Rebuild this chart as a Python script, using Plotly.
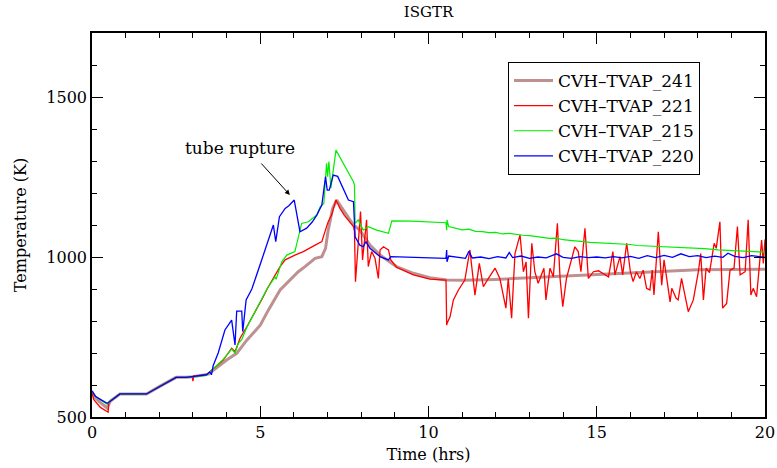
import plotly.graph_objects as go

# ---------------- data ----------------
t_241 = [0.0, 0.1, 0.25, 0.45, 0.5, 0.55, 0.83, 1.62, 2.0, 2.5, 2.8, 3.0, 3.46,
         4.0, 4.3, 4.6, 5.0, 5.24, 5.59, 5.88, 6.13, 6.33, 6.63, 6.83, 6.94, 7.02,
         7.15, 7.27, 7.47, 7.77, 7.96, 8.26, 8.56, 9.05, 9.55, 10.04, 10.54, 11.0,
         12.0, 13.0, 14.0, 15.0, 16.0, 17.0, 18.0, 19.0, 20.0]
T_241 = [578, 560, 545, 528, 540, 550, 572, 572, 595, 624, 624, 626, 634,
         678, 699, 740, 787, 834, 897, 928, 954, 970, 996, 1001, 1027, 1084,
         1152, 1178, 1147, 1100, 1084, 1037, 1006, 970, 949, 935, 928, 927,
         930, 935, 940, 946, 952, 957, 960, 961, 962]

t_221 = [0.0, 0.05, 0.25, 0.48, 0.5, 0.55, 0.83, 1.62, 2.0, 2.5, 2.8, 2.98, 3.0, 3.02,
         3.4, 3.6, 3.9, 4.15, 4.25, 4.4, 4.6, 5.04, 5.24, 5.59, 5.74, 6.03, 6.28,
         6.63, 6.83, 6.97, 7.02, 7.12, 7.25, 7.37, 7.5, 7.77, 7.8, 7.83, 7.98, 8.04,
         8.1, 8.16, 8.21, 8.31, 8.41, 8.51, 8.56, 8.66, 8.81, 8.88, 9.05, 9.55, 10.04,
         10.52, 10.54, 10.56, 10.64, 10.74, 10.89, 11.08, 11.23, 11.38, 11.51, 11.63,
         11.78, 11.98, 12.12, 12.3, 12.37, 12.47, 12.57, 12.72, 12.82, 12.9, 12.97,
         13.07, 13.16, 13.26, 13.43, 13.49, 13.61, 13.71, 13.83, 13.91, 13.99, 14.1,
         14.35, 14.45, 14.53, 14.65, 14.75, 14.9, 15.05, 15.35, 15.48, 15.54, 15.69,
         15.77, 15.89, 16.0, 16.08, 16.18, 16.28, 16.38, 16.48, 16.58, 16.65, 16.7,
         16.83, 16.93, 17.0, 17.18, 17.23, 17.36, 17.42, 17.52, 17.72, 17.87, 18.02,
         18.09, 18.17, 18.25, 18.35, 18.49, 18.55, 18.66, 18.74, 18.86, 18.96, 19.08,
         19.18, 19.26, 19.41, 19.5, 19.58, 19.65, 19.75, 19.9, 19.95, 20.0]
T_221 = [575, 555, 530, 515, 545, 550, 572, 572, 595, 624, 624, 626, 612, 628,
         632, 650, 678, 715, 704, 746, 782, 866, 907, 970, 991, 1006, 1017,
         1037, 1048, 1095, 1110, 1131, 1178, 1152, 1130, 1095, 1080, 923, 1142, 991,
         1060, 1116, 970, 1017, 996, 933, 1022, 1032, 1022, 991, 968, 944, 931,
         928, 787, 795, 813, 866, 897, 928, 1022, 881, 980, 907,
         933, 965, 933, 840, 933, 809, 1011, 1069, 954, 985, 809,
         1043, 954, 918, 965, 866, 965, 938, 1105, 933, 845, 933,
         1032, 1017, 954, 1090, 933, 954, 957, 938, 1017, 944, 1001,
         944, 1043, 954, 923, 954, 933, 959, 902, 897, 959, 881,
         1079, 912, 991, 860, 902, 871, 866, 933, 829, 866, 954,
         1011, 866, 965, 951, 1043, 1027, 1110, 840, 855, 959, 965,
         1095, 944, 954, 1116, 881, 902, 876, 1053, 980, 1055]

t_215 = [0.0, 0.1, 0.3, 0.45, 0.5, 0.55, 0.83, 1.62, 2.0, 2.5, 2.8, 3.0, 3.4,
         3.6, 3.9, 4.15, 4.25, 4.35, 4.45, 4.6, 4.89, 5.2, 5.44, 5.47, 5.64, 5.79,
         6.03, 6.13, 6.23, 6.43, 6.68, 6.78, 6.89, 6.97, 7.0, 7.04, 7.1, 7.25, 7.47,
         7.67, 7.77, 7.8, 7.82, 7.91, 8.06, 8.21, 8.46, 8.81, 8.91, 9.5, 10.0, 10.52,
         10.54, 10.55, 10.6, 10.8, 11.0, 11.2, 11.4, 11.6, 11.8, 12.0, 12.2, 12.4,
         12.6, 12.8, 13.0, 13.2, 13.4, 13.6, 13.8, 14.0, 14.2, 14.4, 14.6, 14.8,
         15.0, 15.2, 15.4, 15.6, 15.8, 16.0, 16.2, 16.4, 16.6, 16.8, 17.0, 17.4,
         17.8, 18.2, 18.6, 19.0, 19.4, 19.8, 20.0]
T_215 = [580, 565, 550, 540, 545, 552, 572, 572, 595, 624, 624, 626, 630,
         650, 680, 712, 700, 730, 742, 780, 840, 900, 938, 930, 985, 1006,
         1017, 1063, 1105, 1110, 1131, 1157, 1167, 1293, 1251, 1298, 1215, 1334, 1293,
         1256, 1235, 1225, 1105, 1116, 1084, 1095, 1084, 1074, 1113, 1112, 1110, 1107,
         1084, 1116, 1095, 1090, 1085, 1087, 1080, 1079, 1076, 1077, 1072, 1074,
         1070, 1068, 1067, 1064, 1061, 1058, 1059, 1054, 1052, 1051, 1048, 1046,
         1045, 1044, 1042, 1043, 1040, 1039, 1036, 1035, 1033, 1034, 1031, 1030,
         1027, 1026, 1022, 1020, 1018, 1017, 1015]

t_220 = [0.0, 0.1, 0.3, 0.45, 0.55, 0.83, 1.62, 2.0, 2.5, 2.8, 3.0, 3.4, 3.5, 3.55,
         3.6, 3.75, 3.95, 4.15, 4.25, 4.3, 4.45, 4.48, 4.58, 4.75, 5.04, 5.39, 5.46,
         5.57, 5.74, 5.85, 6.01, 6.18, 6.38, 6.55, 6.68, 6.83, 6.94, 6.99, 7.05, 7.17,
         7.3, 7.47, 7.62, 7.77, 7.82, 7.96, 8.06, 8.14, 8.26, 8.56, 8.81, 8.88, 9.5,
         10.0, 10.52, 10.54, 10.55, 10.6, 10.85, 11.1, 11.2, 11.3, 11.55, 11.8, 12.05,
         12.3, 12.4, 12.5, 12.75, 13.0, 13.25, 13.5, 13.8, 14.0, 14.25, 14.5, 14.75,
         15.0, 15.25, 15.5, 15.75, 16.0, 16.25, 16.5, 16.75, 17.0, 17.25, 17.5, 17.75,
         18.0, 18.25, 18.5, 18.75, 18.9, 19.1, 19.35, 19.6, 19.85, 20.0]
T_220 = [582, 565, 552, 543, 550, 572, 572, 595, 624, 624, 626, 632, 641, 632,
         660, 700, 772, 803, 725, 831, 831, 767, 866, 900, 990, 1100, 1048,
         1126, 1152, 1160, 1178, 1079, 1090, 1110, 1131, 1162, 1251, 1209, 1209, 1256,
         1252, 1215, 1178, 1173, 1063, 1037, 1032, 1048, 1027, 1001, 991, 1001, 999,
         998, 996, 1022, 985, 1003, 999, 996, 1018, 997, 1000, 995, 1001,
         997, 1014, 998, 1003, 996, 1000, 997, 1010, 999, 996, 1001, 998,
         1000, 997, 1001, 997, 1002, 996, 1004, 998, 1005, 999, 1010, 1001,
         1004, 998, 1003, 999, 1012, 1002, 998, 1004, 1000, 999]

series_names = ["CVH\u2013TVAP_241", "CVH\u2013TVAP_221", "CVH\u2013TVAP_215", "CVH\u2013TVAP_220"]
x_tick_vals = [0, 5, 10, 15, 20]
y_tick_vals = [500, 1000, 1500]

# ---------------- figure ----------------
FONT = "DejaVu Serif"
fig = go.Figure()
styles = [("#bf9090", 3.0), ("#ff0000", 1.3), ("#00ee00", 1.2), ("#0000ff", 1.3)]
for name, tx, ty, (col, w) in zip(series_names,
                                  [t_241, t_221, t_215, t_220],
                                  [T_241, T_221, T_215, T_220], styles):
    fig.add_trace(go.Scatter(x=tx, y=ty, mode="lines", name=name,
                             line=dict(color=col, width=w)))

axis_common = dict(showline=True, linecolor="black", linewidth=1.5, mirror="allticks",
                   ticks="inside", ticklen=11, tickwidth=1.2, tickcolor="black",
                   showgrid=False, zeroline=False, automargin=False,
                   tickfont=dict(family=FONT, size=16, color="black"))
fig.update_xaxes(range=[0, 20], tickvals=x_tick_vals, ticktext=[str(v) for v in x_tick_vals],
                 minor=dict(ticks="inside", ticklen=5, dtick=1, tickcolor="black", tickwidth=1),
                 title=dict(text="Time (hrs)", font=dict(family=FONT, size=16, color="black"), standoff=8),
                 **axis_common)
fig.update_yaxes(range=[500, 1700], tickvals=y_tick_vals, ticktext=[str(v) for v in y_tick_vals],
                 minor=dict(ticks="inside", ticklen=5, dtick=100, tickcolor="black", tickwidth=1),
                 title=dict(text="Temperature (K)", font=dict(family=FONT, size=16, color="black"), standoff=16),
                 **axis_common)

fig.add_annotation(x=5.88, y=1194, ax=4.99, ay=1297, xref="x", yref="y", axref="x", ayref="y",
                   text="", showarrow=True, arrowhead=2, arrowsize=1, arrowwidth=1, arrowcolor="black")
fig.add_annotation(x=4.4, y=1340, xref="x", yref="y", text="tube rupture", showarrow=False,
                   font=dict(family=FONT, size=17, color="black"))

fig.update_layout(
    width=777, height=468,
    margin=dict(l=92, r=12, t=33, b=51),
    paper_bgcolor="white", plot_bgcolor="white",
    title=dict(text="ISGTR", x=0.5, xref="paper", y=1 - 12 / 468, yanchor="middle",
               font=dict(family=FONT, size=15, color="black")),
    legend=dict(x=(508 - 92) / 673, y=(417 - 62) / 384, xanchor="left", yanchor="top",
                bordercolor="black", borderwidth=1, bgcolor="white",
                font=dict(family=FONT, size=17, color="black"),
                tracegroupgap=0, itemwidth=39),
    showlegend=True,
)

fig.write_html("out.html")
